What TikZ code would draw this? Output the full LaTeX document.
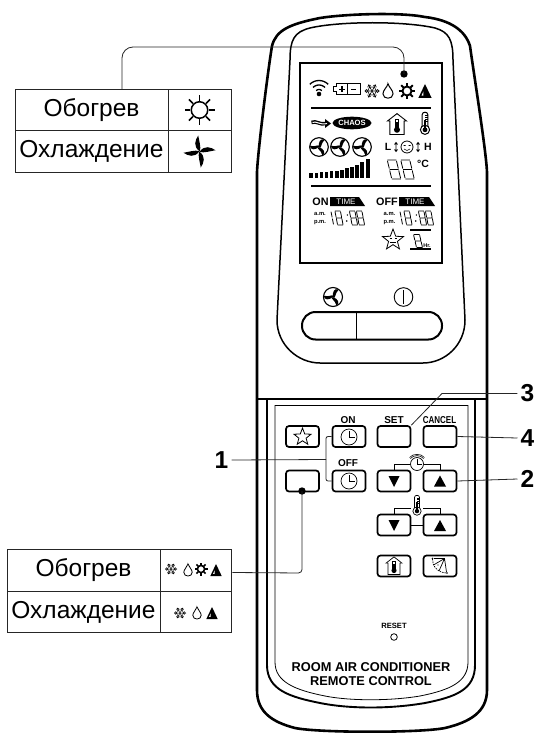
\documentclass[tikz,border=0pt]{standalone}
\usepackage{fontspec}
\setmainfont{Liberation Sans}
\newcommand{\myfs}[1]{\fontsize{#1}{#1}\selectfont}
\tikzset{
  thickbody/.style={line width=2.6pt,line cap=round,line join=round},
  thinline/.style={line width=0.8pt},
  leader/.style={line width=0.8pt,draw=black!85},
  cell/.style={draw=black!85,line width=0.9pt,minimum height=41.5pt,inner sep=0pt,font=\myfs{24.5}},
  btn/.style={draw,line width=1.7pt,rounded corners=3pt,minimum width=33pt,minimum height=21pt,inner sep=0pt},
  btnlabel/.style={inner sep=0pt,font=\bfseries\myfs{10}},
  num/.style={inner sep=0pt,font=\bfseries\myfs{24.5}},
  lcd/.style={inner sep=0pt,font=\bfseries\myfs{6}},
  sunicon/.pic={\draw circle (0.55);
    \foreach \a in {0,45,...,315}{\draw (\a:0.62) -- (\a:1);}},
  snowicon/.pic={\foreach \a in {0,60,...,300}{
      \begin{scope}[rotate=\a]\draw (0,0) -- (1,0) (.45,-.25) -- (.65,0) -- (.45,.25) (.72,-.25) -- (.9,0) -- (.72,.25);\end{scope}}},
  dropicon/.pic={\draw (0,-1) .. controls (.15,-.5) and (.7,-.1) .. (.7,.4) .. controls (.7,.8) and (.35,1) .. (0,1) .. controls (-.35,1) and (-.7,.8) .. (-.7,.4) .. controls (-.7,-.1) and (-.15,-.5) .. cycle;},
  aicon/.pic={\fill (0,-1) -- (.95,1) -- (-.95,1) -- cycle;
    \fill[white] (-.22,.05) -- (-.22,.65) -- (-.5,.65) -- cycle;},
  fanicon/.pic={\draw circle (1);
    \foreach \a in {30,150,270}{\begin{scope}[rotate=\a]\fill (0,0) .. controls (.2,-.5) and (.6,-.78) .. (.92,-.38) .. controls (.7,-.3) and (.35,-.15) .. (.12,.14) -- cycle;\end{scope}}},
  pinicon/.pic={\foreach \a in {0,90,180,270}{\begin{scope}[rotate=\a]\fill (.03,0) .. controls (-.42,-.3) and (-.28,-.7) .. (-.08,-1) .. controls (-.02,-.65) and (.1,-.3) .. cycle;\end{scope}}},
  clockicon/.pic={\draw circle (1);\draw (0,-.75) -- (0,0) -- (.75,0);},
  staricon/.pic={\draw[line join=miter] (-90:1) -- (-54:.42) -- (-18:1) -- (18:.42) -- (54:1) -- (90:.42) -- (126:1) -- (162:.42) -- (198:1) -- (234:.42) -- cycle;},
  thermicon/.pic={\draw[fill=white] (-.28,.45) -- (-.28,-.85) .. controls (-.28,-1.15) and (.28,-1.15) .. (.28,-.85) -- (.28,.45);
    \draw[fill=white] (0,.68) circle (.46);\fill (0,.68) circle (.24);\fill (-.07,-.3) rectangle (.07,.6);
    \foreach \t in {-.8,-.6,-.4,-.2}{\draw[line width=.3pt] (0,\t) -- (.28,\t);}},
  houseicon/.pic={\draw[line join=miter] (0,-1.2) -- (1,-.42) -- (.75,-.42) -- (.75,1) -- (-.75,1) -- (-.75,-.42) -- (-1,-.42) -- cycle;
    \draw (-.2,.3) -- (-.2,-.6) -- (.2,-.6) -- (.2,.3);\fill (0,.5) circle (.32);\fill (-.08,-.3) rectangle (.08,.5);},
  segeight/.pic={\begin{scope}[xslant=-.25]
    \draw (-.5,-1) -- (.5,-1) (-.5,0) -- (.5,0) (-.5,1) -- (.5,1) (-.5,-.9) -- (-.5,-.1) (.5,-.9) -- (.5,-.1) (-.5,.1) -- (-.5,.9) (.5,.1) -- (.5,.9);\end{scope}},
  segone/.pic={\begin{scope}[xslant=-.25]\draw (.5,-.9) -- (.5,-.1) (.5,.1) -- (.5,.9);\end{scope}},
}
\begin{document}
\begin{tikzpicture}[x=1pt,y=-1pt]
\useasboundingbox (0,0) rectangle (537,733);
% body
\draw[thickbody] (257,690) -- (257,172) .. controls (258,150) and (268,70) .. (272,46)
  .. controls (276,30) and (290,24) .. (320,18) .. controls (345,14) and (400,12) .. (425,17)
  .. controls (450,20) and (465,30) .. (470,46) .. controls (474,75) and (486,150) .. (487,172)
  -- (487,690) .. controls (487,712) and (470,722) .. (445,728) .. controls (420,733) and (320,733) .. (295,728)
  .. controls (272,722) and (257,712) .. (257,690);
\draw[line width=1.5pt] (290,60) .. controls (290,40) and (294,32) .. (310,28) .. controls (340,21) and (405,21) .. (435,28)
  .. controls (449,32) and (453,40) .. (453,60) -- (465,320) .. controls (465,345) and (445,363) .. (423,363)
  -- (320,363) .. controls (298,363) and (277,345) .. (277,320) -- cycle;
\draw[line width=1.8pt] (300,63) rectangle (442,263);
% divider and lower panel
\draw[line width=2pt] (257,399) -- (487,399);
\draw[line width=1.9pt] (267,399) -- (267,665) .. controls (267,690) and (290,697) .. (320,703) .. controls (350,709) and (390,709) .. (425,703) .. controls (455,697) and (475,690) .. (475,665) -- (475,399);
\draw[thinline] (275,405) -- (468,405);
\draw[thinline] (275,405) -- (275,662) .. controls (275,682) and (295,690) .. (325,696) .. controls (350,701) and (390,701) .. (420,696) .. controls (450,690) and (468,682) .. (468,662) -- (468,405);
% display top row
\foreach \r in {4,8.5,13}{\draw[line width=1.3pt] plot[smooth,samples=9,domain=225:315] ({319+\r*cos(\x)},{93.5+\r*sin(\x)});}
\fill (319,94) circle (2.3);
\draw[line width=1pt] (333,87) -- (336,87) -- (336,84) -- (360,84) -- (360,95) -- (336,95) -- (336,92) -- (333,92) -- cycle;
\draw[line width=1.3pt] (342,86.5) -- (342,92.5) (339,89.5) -- (345,89.5) (351,89.5) -- (356,89.5);
\draw[line width=.4pt] (347.5,84) -- (347.5,95);
\pic[line width=.6pt,scale=7.5] at (372,91) {snowicon};
\pic[line width=1pt,scale=7.2] at (388,91) {dropicon};
\pic[line width=1.9pt,scale=8.2] at (407,91) {sunicon};
\pic[scale=7] at (425,91) {aicon};
\draw[line width=1.5pt] (311,108) -- (431,108);
% second row
\draw[line width=3.6pt] (311.5,122.5) .. controls (316,120) and (320,125.5) .. (326,123.5);
\fill (325,119) -- (331,123.5) -- (325,128) -- cycle;
\draw[white,line width=1pt] (312.5,122.5) .. controls (316,120.5) and (320,125.5) .. (327,123.5);
\fill (352,123) ellipse (19.5 and 6.3);
\node[inner sep=0pt,text=white,font=\bfseries\myfs{7.6}] (chaostxt) at (352,123) {CHAOS};
\pic[line width=.9pt,scale=9.5] at (397,125) {houseicon};
\pic[line width=1pt,scale=10] at (425,123) {thermicon};
\foreach \x in {319,340,362}{\pic[line width=1.1pt,scale=9.3] at (\x,147) {fanicon};}
\node[lcd,font=\bfseries\myfs{10.5}] (ltxt) at (388,147) {L};
\node[lcd,font=\bfseries\myfs{10.5}] (htxt) at (428,147) {H};
\draw[line width=.8pt] (396,142.5) -- (396,151.5) (394.5,144.5) -- (396,142.5) -- (397.5,144.5) (394.5,149.5) -- (396,151.5) -- (397.5,149.5);
\draw[line width=.8pt] (418,142.5) -- (418,151.5) (416.5,144.5) -- (418,142.5) -- (419.5,144.5) (416.5,149.5) -- (418,151.5) -- (419.5,149.5);
\draw[line width=.8pt] (407,147) circle (6);
\draw[line width=.6pt] (403.5,145.5) -- (405.5,145.5) (408.5,145.5) -- (410.5,145.5) (404,149) .. controls (406,151) and (408,151) .. (410,149);
\foreach \x/\h in {311/5.5,316.2/5.5,321.4/6,326.6/6.5,331.8/7,337/7.5,342/8.5,347/10,352/11.5,357/13.5,362/16,368/19}{\fill (\x-1.6,178) rectangle (\x+1.6,178-\h);}
\pic[line width=.8pt,xscale=9,yscale=9.5] at (394,169.5) {segeight};
\pic[line width=.8pt,xscale=9,yscale=9.5] at (407.5,169.5) {segeight};
\node[lcd,font=\bfseries\myfs{10.5}] (deg) at (423,164) {°C};
\draw[line width=1.5pt] (311,186) -- (431,186);
% timers
\node[lcd,font=\bfseries\myfs{10.8}] (ontxt) at (320.5,202) {ON};
\fill (330,197) -- (359,197) -- (365,206) -- (330,206) -- cycle;
\node[lcd,text=white,font=\myfs{8}] (time1) at (346,201.7) {TIME};
\node[lcd,font=\bfseries\myfs{10.8}] (offtxt) at (387,202) {OFF};
\fill (399,197) -- (429,197) -- (435,206) -- (399,206) -- cycle;
\node[lcd,text=white,font=\myfs{8}] (time2) at (415,201.7) {TIME};
\node[lcd,font=\bfseries\myfs{5.8}] (am1) at (320,213.5) {a.m.};
\node[lcd,font=\bfseries\myfs{5.8}] (pm1) at (320,222.5) {p.m.};
\node[lcd,font=\bfseries\myfs{5.8}] (am2) at (389.5,213.5) {a.m.};
\node[lcd,font=\bfseries\myfs{5.8}] (pm2) at (389.5,222.5) {p.m.};
\foreach \o in {0,69}{
  \pic[line width=.8pt,xscale=5.5,yscale=7] at (\o+329.5,218) {segone};
  \pic[line width=.8pt,xscale=5.5,yscale=7] at (\o+339,218) {segeight};
  \fill (\o+347.3,215) circle (.8) (\o+346.7,221) circle (.8);
  \pic[line width=.8pt,xscale=5.5,yscale=7] at (\o+353.5,218) {segeight};
  \pic[line width=.8pt,xscale=5.5,yscale=7] at (\o+360.5,218) {segeight};
}
\pic[line width=.8pt,scale=11] at (393,240) {staricon};
\draw[line width=.4pt] (389.5,238.5) -- (391.5,238.5) (394.5,238.5) -- (396.5,238.5) (390,242) -- (396,242);
\draw[line width=1.3pt] (410,230) -- (431,230) (410,249) -- (431,249);
\pic[line width=.8pt,xscale=6,yscale=6.5] at (418,241) {segeight};
\node[lcd,font=\bfseries\myfs{5.5}] (hr) at (427,246) {Hr.};
% fan + power + pill
\pic[line width=1.1pt,scale=9.5] at (333,297) {fanicon};
\draw[line width=.9pt] (403.5,297) circle (9.3);
\draw[line width=1.4pt] (403.5,290) -- (403.5,304);
\draw[line width=2pt,rounded corners=13.5pt] (302,312) rectangle (442,339.5);
\draw[line width=1.8pt] (356.5,312) -- (356.5,339.5);
% buttons
\node[btn] (bstar) at (302.5,436.5) {};
\node[btn] (bon) at (349,436.5) {};
\node[btn] (bset) at (394,436.5) {};
\node[btn] (bcancel) at (440,436.5) {};
\node[btn] (bblank) at (302.5,481) {};
\node[btn] (boff) at (349,481) {};
\node[btn] (bdown) at (394,481) {};
\node[btn] (bup) at (440,481) {};
\node[btn] (tdown) at (394,525) {};
\node[btn] (tup) at (440,525) {};
\node[btn] (bhouse) at (394,566) {};
\node[btn] (bswing) at (440,566) {};
\node[btnlabel] (lon) at (348,420) {ON};
\node[btnlabel] (loff) at (348,463.5) {OFF};
\node[btnlabel] (lset) at (394,420.5) {SET};
\node[btnlabel] (lcancel) at (439.5,420.5) {\scalebox{.8}[1]{CANCEL}};
\pic[line width=.8pt,scale=9] at (302.5,437) {staricon};
\pic[line width=.7pt,scale=8] at (349,437) {clockicon};
\pic[line width=.7pt,scale=8] at (349,481) {clockicon};
\fill (388.5,476) -- (399.5,476) -- (394,487) -- cycle;
\fill (434,486.5) -- (446,486.5) -- (440,475.5) -- cycle;
\fill (388.5,520) -- (399.5,520) -- (394,531) -- cycle;
\fill (434,531) -- (446,531) -- (440,520) -- cycle;
% bracket with clock
\draw[line width=.7pt] (bdown.north) -- (394,464.5) -- (410,464.5) (424,464.5) -- (440,464.5) -- (bup.north);
\pic[line width=.7pt,scale=6.5] at (417,464) {clockicon};
\draw[line width=.7pt,double,double distance=.5pt] (410,458) .. controls (413,454) and (421,454) .. (424,458);
% bracket with thermometer
\draw[line width=.7pt] (tdown.north) -- (394,508) -- (411,508) (423,508) -- (440,508) -- (tup.north);
\draw[line width=.7pt] (tdown.east) -- (tup.west);
\pic[line width=.7pt,scale=9] at (417,505) {thermicon};
\pic[line width=.7pt,scale=8] at (394,566.5) {houseicon};
% swing icon
\draw[line width=.7pt] (434,558.5) -- (444.5,558.5) -- (446.5,572) (444.5,558.5) -- (433.5,565) (444.5,558.5) -- (439,571);
\draw[line width=.7pt,dash pattern=on 1.5pt off 1pt] (432.5,559) .. controls (432,566) and (438,573) .. (447,573);
\fill (432.5,558.5) circle (.9) (447,573) circle (.9) (438,565) circle (.6);
% reset and titles
\node[lcd,font=\bfseries\myfs{7.6}] (reset) at (394,626) {RESET};
\draw[line width=.8pt] (394,637) circle (3.3);
\node[inner sep=0pt,font=\bfseries\myfs{12.8}] (room) at (371,667) {ROOM AIR CONDITIONER};
\node[inner sep=0pt,font=\bfseries\myfs{12.8}] (remote) at (371,681) {REMOTE CONTROL};
% top table
\node[cell,minimum width=153pt] (tA) at (91.5,110) {Обогрев};
\node[cell,minimum width=63pt] (tB) at (199.5,110) {};
\node[cell,minimum width=153pt] (tC) at (91.5,151.5) {Охлаждение};
\node[cell,minimum width=63pt] (tD) at (199.5,151.5) {};
\pic[line width=1.5pt,scale=15] at (tB.center) {sunicon};
\pic[scale=16] at (tD.center) {pinicon};
% bottom table
\node[cell,minimum width=153pt] (bA) at (83.5,570.5) {Обогрев};
\node[cell,minimum width=71pt] (bB) at (195.5,570.5) {};
\node[cell,minimum width=153pt] (bC) at (83.5,612) {Охлаждение};
\node[cell,minimum width=71pt] (bD) at (195.5,612) {};
\pic[line width=.5pt,scale=6] at (171,569) {snowicon};
\pic[line width=.8pt,scale=6] at (188,570) {dropicon};
\pic[line width=1.6pt,scale=6.5] at (201,569) {sunicon};
\pic[scale=6] at (216,570) {aicon};
\pic[line width=.5pt,scale=6] at (180,613) {snowicon};
\pic[line width=.8pt,scale=6] at (197,613) {dropicon};
\pic[scale=6] at (212,613) {aicon};
% leaders
\coordinate (dotA) at (404,74);
\coordinate (tabTop) at (122,89);
\coordinate (dotB) at (302,491);
\coordinate (fork1) at (326,459.5);
\fill (dotA) circle (3.7);
\fill (dotB) circle (3.7);
\draw[leader,rounded corners=11pt] (tabTop) -- (122,47) -- (404,47) -- (dotA);
\draw[leader,rounded corners=3.5pt] (bB.east) ++(1,2) -- (302,573) -- (dotB);
\node[num] (n1) at (221.5,460) {1};
\node[num] (n2) at (527.5,479) {2};
\node[num] (n3) at (527.5,393.5) {3};
\node[num] (n4) at (527.5,438) {4};
\draw[leader] (n1.east) ++(3,0) -- (fork1);
\draw[leader,rounded corners=2pt] (bon.west) -- (326,436.5) -- (326,481) -- (boff.west);
\draw[leader] (n3.west) ++(-3,0) -- (442,393.5) -- (bset.north east);
\draw[leader] (n4.west) ++(-3,0) -- (bcancel.east);
\draw[leader] (n2.west) ++(-3,0) -- (bup.east);
\end{tikzpicture}
\end{document}
